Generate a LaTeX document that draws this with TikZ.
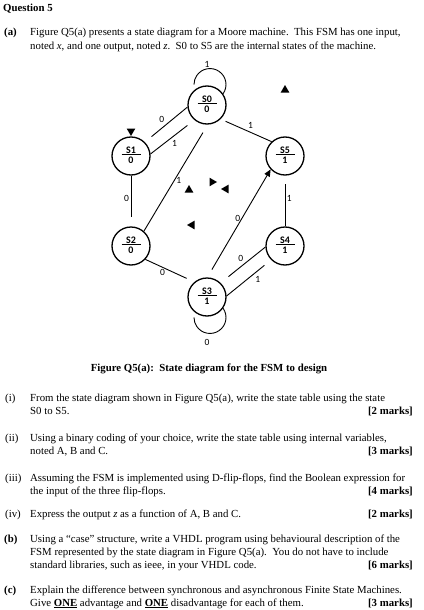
\documentclass[tikz,border=0pt]{standalone}
\usepackage{fontspec}
\setmainfont{Liberation Serif}
\newfontfamily\diagfont{Carlito}
\usetikzlibrary{arrows.meta, shapes.geometric}

% state name over output
\newcommand{\stlbl}[2]{\begin{tabular}{@{}c@{}}\makebox[19pt]{#1}\\[-3pt]\hline\rule{0pt}{9pt}#2\end{tabular}}

\begin{document}
\begin{tikzpicture}[x=1pt, y=1pt,
    state/.style={circle, draw, line width=1.3pt, minimum size=38pt, inner sep=0pt,
        font=\diagfont\bfseries\fontsize{10}{11}\selectfont},
    edge/.style={line width=0.9pt},
    lbl/.style={font=\diagfont\fontsize{9.5}{10}\selectfont, inner sep=1.5pt},
    tipmark/.style={regular polygon, regular polygon sides=3, fill, inner sep=0pt, minimum size=10pt},
    txt/.style={anchor=base west, inner sep=0pt, font=\fontsize{10.8}{13}\selectfont},
    marks/.style={anchor=base east, inner sep=0pt, font=\fontsize{10.8}{13}\selectfont\bfseries}]
    \useasboundingbox (0,0) rectangle (423,-610);

    % Question text:
    \node[txt, font=\fontsize{10.8}{13}\selectfont\bfseries] (q) at (3,-12) {Question 5};
    \node[txt, font=\fontsize{10.8}{13}\selectfont\bfseries] (a) at (4,-36) {(a)};
    \node[txt] (a1) at (30,-36) {Figure Q5(a) presents a state diagram for a Moore machine.\ \ This FSM has one input,};
    \node[txt] (a2) at (30,-49) {noted \textit{x}, and one output, noted \textit{z}.\ \ S0 to S5 are the internal states of the machine.};

    % States:
    \begin{scope}
    \node[state] (s0) at (207,-105) {\stlbl{S0}{0}};
    \node[state] (s1) at (131,-156) {\stlbl{S1}{0}};
    \node[state] (s5) at (285,-156) {\stlbl{S5}{1}};
    \node[state] (s2) at (131,-246) {\stlbl{S2}{0}};
    \node[state] (s4) at (285,-246) {\stlbl{S4}{1}};
    \node[state] (s3) at (207,-297) {\stlbl{S3}{1}};

    % Transitions:
    % The heads are missing, so each line stops short of its state:
    \draw[edge, shorten >=8.6pt] (s0.186) -- (s1.45) node[lbl, midway, above left] {0};
    \draw[edge, shorten >=8.8pt] (s1.6) -- (s0.230) node[lbl, pos=0.45, below right] {1};
    \draw[edge, shorten >=5.4pt] (s5.133) -- (s0.-46) node[lbl, midway, above right] {1};
    \draw[edge, shorten >=9.3pt] (s2.49) -- (s0.-88) node[lbl, pos=0.48, right] {1};
    \draw[edge, shorten >=9pt] (s1.south) -- (s2.north) node[lbl, pos=0.45, left] {0};
    \draw[edge, shorten >=8pt] (s4.north) -- (s5.south) node[lbl, pos=0.55, right] {1};
    \draw[edge, shorten <=9pt, -{Triangle[length=7pt, width=6pt]}] (s3.89) -- (s5.223)
        node[lbl, pos=0.55, left] {0};
    \draw[edge, shorten >=8.5pt] (s2.-43) -- (s3.130) node[lbl, pos=0.35, below] {0};
    \draw[edge, shorten >=10pt] (s4.183) -- (s3.46) node[lbl, pos=0.45, above left] {0};
    \draw[edge, shorten >=8.6pt] (s3.3) -- (s4.225) node[lbl, pos=0.6, below right] {1};

    % Self loops:
    \draw[edge] (s0.35) arc[start angle=-35, end angle=180, radius=16pt];
    \node[lbl] (l0) at ([yshift=41pt]s0.center) {1};
    \draw[edge] (s3.-35) arc[start angle=35, end angle=-180, radius=16pt];
    \node[lbl] (l3) at ([yshift=-45pt]s3.center) {0};

    % Loose arrow heads:
    \node[tipmark, rotate=180] (t1) at (131,-131) {};
    \node[tipmark] (t2) at (285,-90) {};
    \node[tipmark] (t3) at (189,-190) {};
    \node[tipmark, rotate=-90] (t4) at (212,-182) {};
    \node[tipmark, rotate=-30] (t5) at (226,-189) {};
    \node[tipmark, rotate=90] (t6) at (192,-225) {};
    \end{scope}

    \node[anchor=base, inner sep=0pt, font=\fontsize{10.8}{13}\selectfont\bfseries] (cap) at (209,-371)
        {Figure Q5(a):\ \ State diagram for the FSM to design};

    % Parts:
    \node[txt] (i) at (5,-401) {(i)};
    \node[txt] (i1) at (30,-401) {From the state diagram shown in Figure Q5(a), write the state table using the state};
    \node[txt] (i2) at (30,-414) {S0 to S5.};
    \node[marks] (m1) at (413,-414) {[2 marks]};

    \node[txt] (ii) at (5,-441) {(ii)};
    \node[txt] (ii1) at (30,-441) {Using a binary coding of your choice, write the state table using internal variables,};
    \node[txt] (ii2) at (30,-454) {noted A, B and C.};
    \node[marks] (m2) at (413,-454) {[3 marks]};

    \node[txt] (iii) at (5,-481) {(iii)};
    \node[txt] (iii1) at (30,-481) {Assuming the FSM is implemented using D-flip-flops, find the Boolean expression for};
    \node[txt] (iii2) at (30,-494) {the input of the three flip-flops.};
    \node[marks] (m3) at (413,-494) {[4 marks]};

    \node[txt] (iv) at (5,-517) {(iv)};
    \node[txt] (iv1) at (30,-517) {Express the output \textit{z} as a function of A, B and C.};
    \node[marks] (m4) at (413,-517) {[2 marks]};

    \node[txt, font=\fontsize{10.8}{13}\selectfont\bfseries] (b) at (4,-542) {(b)};
    \node[txt] (b1) at (30,-542) {Using a “case” structure, write a VHDL program using behavioural description of the};
    \node[txt] (b2) at (30,-555) {FSM represented by the state diagram in Figure Q5(a).\ \ You do not have to include};
    \node[txt] (b3) at (30,-568) {standard libraries, such as ieee, in your VHDL code.};
    \node[marks] (m5) at (413,-568) {[6 marks]};

    \node[txt, font=\fontsize{10.8}{13}\selectfont\bfseries] (c) at (4,-593) {(c)};
    \node[txt] (c1) at (30,-593) {Explain the difference between synchronous and asynchronous Finite State Machines.};
    \node[txt] (c2) at (30,-606) {Give \underline{\textbf{ONE}} advantage and \underline{\textbf{ONE}} disadvantage for each of them.};
    \node[marks] (m6) at (413,-606) {[3 marks]};
\end{tikzpicture}
\end{document}
